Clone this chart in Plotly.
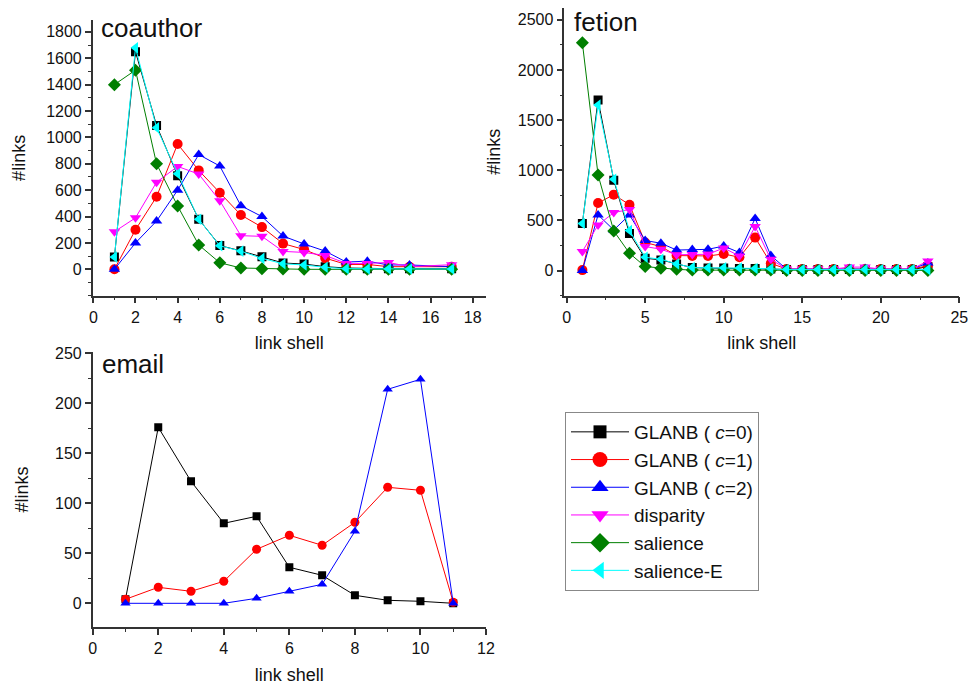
import plotly.graph_objects as go

# ---------------- data ----------------
series_names = ["GLANB ( <i>c</i>=0)", "GLANB ( <i>c</i>=1)", "GLANB ( <i>c</i>=2)",
                "disparity", "salience", "salience-E"]
colors = ["#000000", "#ff0000", "#0000ff", "#ff00ff", "#007f00", "#00ffff"]
symbols = ["square", "circle", "triangle-up", "triangle-down", "diamond", "triangle-left"]

# coauthor
coauthor_x = [1, 2, 3, 4, 5, 6, 7, 8, 9, 10, 11, 12, 13, 14, 15, 17]
coauthor_c0 = [93, 1650, 1090, 710, 380, 180, 140, 95, 48, 40, 20, 10, 5, 5, 5, 5]
coauthor_c1 = [0, 300, 550, 950, 750, 580, 412, 320, 195, 150, 85, 37, 37, 20, 20, 20]
coauthor_c2 = [0, 200, 366, 600, 870, 783, 482, 400, 252, 192, 138, 55, 62, 33, 33, 20]
coauthor_disp = [285, 390, 660, 780, 722, 520, 255, 250, 136, 128, 105, 45, 45, 52, 20, 35]
coauthor_sal = [1400, 1510, 800, 480, 185, 50, 10, 5, 2, 0, 0, 0, 0, 0, 0, 0]
coauthor_salE = [93, 1680, 1073, 725, 380, 178, 138, 83, 42, 33, 15, 5, 3, 3, 3, 3]

# fetion
fetion_x = list(range(1, 24))
fetion_c0 = [470, 1700, 900, 370, 123, 107, 67, 30, 25, 25, 20, 20, 15, 10, 10, 10, 10, 10, 10, 10, 10, 10, 40]
fetion_c1 = [5, 673, 757, 657, 280, 240, 150, 145, 146, 166, 133, 329, 73, 15, 15, 15, 15, 15, 15, 15, 15, 15, 50]
fetion_c2 = [0, 555, 405, 555, 300, 273, 205, 210, 212, 245, 180, 520, 150, 15, 15, 15, 15, 20, 20, 15, 15, 15, 77]
fetion_disp = [190, 455, 578, 610, 240, 213, 158, 160, 163, 225, 146, 440, 113, 15, 15, 15, 15, 35, 35, 15, 15, 15, 97]
fetion_sal = [2270, 953, 395, 173, 40, 23, 13, 5, 5, 5, 5, 5, 5, 2, 2, 2, 2, 2, 2, 2, 2, 2, 2]
fetion_salE = [470, 1650, 910, 400, 133, 113, 67, 30, 28, 28, 25, 22, 18, 10, 10, 10, 10, 10, 10, 10, 10, 10, 10]

# email
email_x = [1, 2, 3, 4, 5, 6, 7, 8, 9, 10, 11]
email_c0 = [4, 176, 122, 80, 87, 36, 28, 8, 3, 2, 0]
email_c1 = [4, 16, 12, 22, 54, 68, 58, 81, 116, 113, 1]
email_c2 = [0, 0, 0, 0, 5, 12, 19, 72, 214, 224, 0]

# tick labels
coauthor_xticks = [0, 2, 4, 6, 8, 10, 12, 14, 16, 18]
coauthor_yticks = [0, 200, 400, 600, 800, 1000, 1200, 1400, 1600, 1800]
fetion_xticks = [0, 5, 10, 15, 20, 25]
fetion_yticks = [0, 500, 1000, 1500, 2000, 2500]
email_xticks = [0, 2, 4, 6, 8, 10, 12]
email_yticks = [0, 50, 100, 150, 200, 250]

FONT = "Liberation Sans, Arial, sans-serif"

fig = go.Figure()

def add_panel(xs, ys_list, xa, ya, msize):
    for i, ys in enumerate(ys_list):
        fig.add_trace(go.Scatter(
            x=xs, y=ys, mode="lines+markers",
            name=series_names[i], legendgroup=f"g{i}",
            line=dict(color=colors[i], width=1),
            marker=dict(symbol=symbols[i], color=colors[i],
                        size=msize - 1 if symbols[i] == "square" else msize,
                        line=dict(width=0)),
            xaxis=xa, yaxis=ya, showlegend=False,
        ))

add_panel(coauthor_x, [coauthor_c0, coauthor_c1, coauthor_c2, coauthor_disp, coauthor_sal, coauthor_salE],
          "x", "y", 10)
add_panel(fetion_x, [fetion_c0, fetion_c1, fetion_c2, fetion_disp, fetion_sal, fetion_salE],
          "x2", "y2", 10)
add_panel(email_x, [email_c0, email_c1, email_c2], "x3", "y3", 9)

# legend-only entries (larger symbols, as in the reference legend)
for i in range(6):
    fig.add_trace(go.Scatter(
        x=[None], y=[None], mode="lines+markers", name=series_names[i],
        legendgroup=f"g{i}",
        line=dict(color=colors[i], width=1),
        marker=dict(symbol=symbols[i], color=colors[i],
                    size=13 if symbols[i] == "square" else 15, line=dict(width=0)),
        xaxis="x3", yaxis="y3", showlegend=True, hoverinfo="skip",
    ))

def ax(domain, rng, ticks, minor_dtick, anchor, title=None, standoff=None):
    d = dict(domain=domain, range=rng, anchor=anchor, automargin=False,
             tickmode="array", tickvals=ticks, ticktext=[str(t) for t in ticks],
             showline=True, linecolor="#333333", linewidth=1.5,
             ticks="outside", ticklen=6, tickwidth=1.5, tickcolor="#333333",
             minor=dict(tickmode="linear", tick0=0, dtick=minor_dtick, ticklen=3,
                        tickwidth=1.2, tickcolor="#333333", ticks="outside"),
             showgrid=False, zeroline=False,
             tickfont=dict(family=FONT, size=16, color="#111111"))
    if title is not None:
        d["title"] = dict(text=title, font=dict(family=FONT, size=18, color="#111111"),
                          standoff=standoff)
    return d

W, H = 969, 686
def px(x):
    return x / W
def py(y):
    return (H - y) / H

fig.update_layout(
    width=W, height=H,
    margin=dict(l=0, r=0, t=0, b=0, autoexpand=False),
    paper_bgcolor="white", plot_bgcolor="white",
    font=dict(family=FONT, color="#111111"),
    xaxis=ax([px(92.7), px(486)], [-0.03, 18.63], coauthor_xticks, 1, "y", "link shell", 12),
    yaxis=ax([py(295.7), py(20)], [-200, 1890], coauthor_yticks, 100, "x", "#links", 16),
    xaxis2=ax([px(564.3), px(959.3)], [-0.15, 25], fetion_xticks, 2.5, "y2", "link shell", 12),
    yaxis2=ax([py(295.7), py(8)], [-250, 2617], fetion_yticks, 250, "x2", "#links", 12),
    xaxis3=ax([px(92.7), px(486)], [0, 12], email_xticks, 1, "y3", "link shell", 12),
    yaxis3=ax([py(627), py(352)], [-23.7, 251.3], email_yticks, 25, "x3", "#links", 22),
    legend=dict(x=px(565), y=py(412), xanchor="left", yanchor="top",
                bordercolor="#888888", borderwidth=1, bgcolor="white",
                font=dict(family=FONT, size=19, color="#111111"),
                itemwidth=58, tracegroupgap=0, entrywidth=150),
    annotations=[
        dict(text="coauthor", x=px(99), y=py(28), xref="paper", yref="paper",
             xanchor="left", yanchor="middle", showarrow=False,
             font=dict(family=FONT, size=26, color="#111111")),
        dict(text="fetion", x=px(572), y=py(22), xref="paper", yref="paper",
             xanchor="left", yanchor="middle", showarrow=False,
             font=dict(family=FONT, size=26, color="#111111")),
        dict(text="email", x=px(100), y=py(364), xref="paper", yref="paper",
             xanchor="left", yanchor="middle", showarrow=False,
             font=dict(family=FONT, size=26, color="#111111")),
    ],
)

fig.write_html("out.html", config={"displayModeBar": False},
               post_script="document.body.style.margin='0';")
